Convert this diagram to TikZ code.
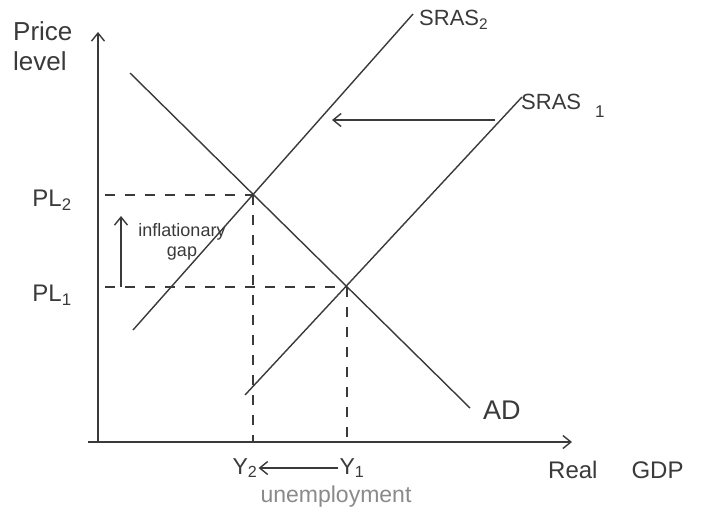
\documentclass[tikz,border=0pt]{standalone}
\usepackage{fontspec}
\setmainfont{Liberation Sans}
\usetikzlibrary{arrows.meta,calc}
\definecolor{ink}{HTML}{3A3A3A}
\definecolor{soft}{HTML}{8A8A8A}
\begin{document}
\begin{tikzpicture}[x=1pt,y=-1pt,
  line/.style={draw=ink, line width=1.4pt},
  guide/.style={draw=ink, line width=1.4pt, dash pattern=on 10pt off 10pt},
  lbl/.style={text=ink, font=\fontsize{22}{24}\selectfont, inner sep=1pt},
  small/.style={text=ink, font=\fontsize{18}{20}\selectfont, inner sep=1pt, align=center},
  arr/.style={-{Straight Barb[length=8pt,width=13pt]}}
]
\useasboundingbox (0,0) rectangle (708,531);
\fill[white] (0,0) rectangle (708,531);

% axes
\coordinate (O) at (98,442);
\coordinate (xstart) at (88,442);
\coordinate (ytop) at (98,32);
\coordinate (xend) at (572,442);
\draw[line,arr] (O) -- (ytop);
\draw[line,arr] (xstart) -- (xend);

% curves
\coordinate (ad1) at (130,73);
\coordinate (ad2) at (470,408);
\coordinate (s2a) at (133,330);
\coordinate (s2b) at (413,14);
\coordinate (s1a) at (245,395);
\coordinate (s1b) at (522,97);
\coordinate (E2) at (253,195);
\coordinate (E1) at (347,287);
\draw[line] (ad1) -- (ad2);
\draw[line] (s2a) -- (s2b);
\draw[line] (s1a) -- (s1b);

% guides
\coordinate (p2) at (105,195);
\coordinate (p1) at (105,287);
\coordinate (q2) at (253,442);
\coordinate (q1) at (347,442);
\draw[guide] (p2) -- (E2);
\draw[guide] (p1) -- (E1);
\draw[guide] (E2) -- (q2);
\draw[guide] (E1) -- (q1);

% labels
\node[lbl, align=left, anchor=north west, font=\fontsize{26}{30}\selectfont] (price) at (12,20) {Price\\level};
\node[lbl, font=\fontsize{24}{26}\selectfont] (pl2) at (52,200) {PL\textsubscript{2}};
\node[lbl, font=\fontsize{24}{26}\selectfont] (pl1) at (52,295) {PL\textsubscript{1}};
\node[small] (gap) at (182,242) {inflationary\\gap};
\coordinate (ga1) at (121,287);
\coordinate (ga2) at (121,216);
\draw[line,arr] (ga1) -- (ga2);

\node[lbl, anchor=west] (lsras2) at (418,20) {SRAS\textsubscript{2}};
\node[lbl, anchor=west] (lsras1) at (520,106) {SRAS\hspace{14pt}\raisebox{-8pt}{\fontsize{17}{19}\selectfont 1}};
\coordinate (sh1) at (495,120);
\coordinate (sh2) at (332,120);
\draw[line,arr] (sh1) -- (sh2);

\node[lbl, anchor=west, font=\fontsize{27}{29}\selectfont] (lad) at (482,410) {AD};
\node[lbl, anchor=west, font=\fontsize{24}{26}\selectfont] (lgdp) at (547,470) {Real\hspace{34pt}GDP};

\node[lbl, font=\fontsize{23}{25}\selectfont] (y2) at (245,468) {Y\textsubscript{2}};
\node[lbl, font=\fontsize{23}{25}\selectfont] (y1) at (352,468) {Y\textsubscript{1}};
\draw[line,arr] (y1.west) -- (y2.east);
\node[lbl, text=soft, font=\fontsize{23}{25}\selectfont] (unemp) at (336,497) {unemployment};
\end{tikzpicture}
\end{document}
